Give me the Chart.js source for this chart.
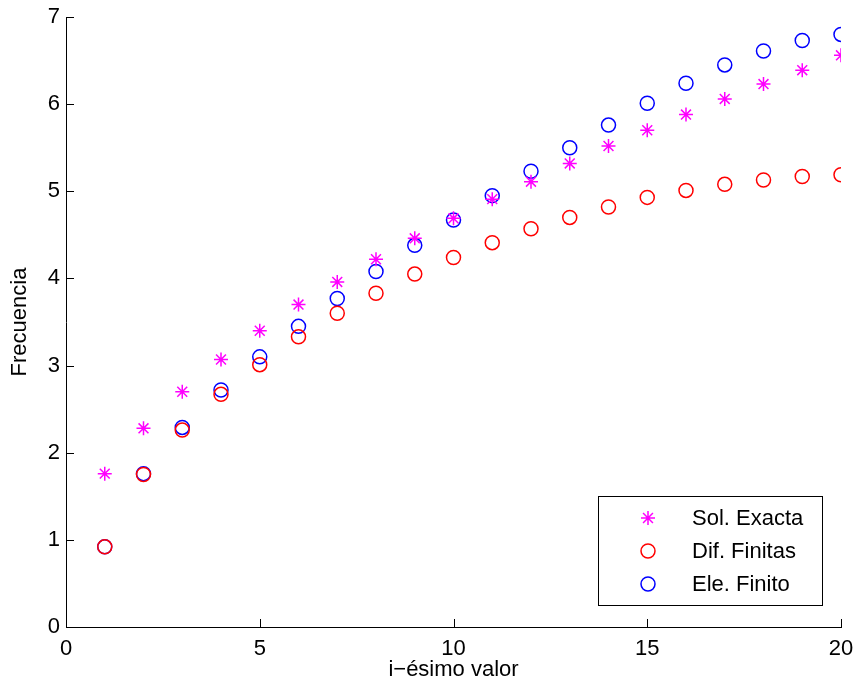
<!DOCTYPE html>
<html>
<head>
<meta charset="utf-8">
<script src="https://cdn.jsdelivr.net/npm/chart.js@4/dist/chart.umd.min.js"></script>
<style>
    html, body { margin: 0; padding: 0; background: #fff; }
    #wrap { width: 856px; height: 687px; }
</style>
</head>
<body>
<div id="wrap"><canvas id="freqChart"></canvas></div>
<script>
const indices = [1, 2, 3, 4, 5, 6, 7, 8, 9, 10, 11, 12, 13, 14, 15, 16, 17, 18, 19, 20];
const solExacta = [1.76, 2.28, 2.70, 3.07, 3.40, 3.70, 3.96, 4.22, 4.46, 4.69, 4.91, 5.11, 5.32, 5.52, 5.70, 5.88, 6.06, 6.23, 6.39, 6.56];
const difFinitas = [0.92, 1.75, 2.26, 2.67, 3.01, 3.33, 3.60, 3.83, 4.05, 4.24, 4.41, 4.57, 4.70, 4.82, 4.93, 5.01, 5.08, 5.13, 5.17, 5.19];
const eleFinito = [0.92, 1.76, 2.29, 2.72, 3.10, 3.45, 3.77, 4.08, 4.38, 4.67, 4.95, 5.23, 5.50, 5.76, 6.01, 6.24, 6.45, 6.61, 6.73, 6.80];
const xTicks = [0, 5, 10, 15, 20];
const yTicks = [0, 1, 2, 3, 4, 5, 6, 7];

const FONT = "'Liberation Sans', Arial, Helvetica, sans-serif";

const toPoints = (vals) => indices.map((i, k) => ({ x: i, y: vals[k] }));

// inward tick marks, matlab style
const insideTicks = {
    id: "insideTicks",
    afterDraw(chart) {
        const { ctx, chartArea, scales } = chart;
        ctx.save();
        ctx.strokeStyle = "#000";
        ctx.lineWidth = 1;
        xTicks.forEach((v) => {
            const px = Math.round(scales.x.getPixelForValue(v)) + 0.5;
            ctx.beginPath();
            ctx.moveTo(px, chartArea.bottom);
            ctx.lineTo(px, chartArea.bottom - 8);
            ctx.stroke();
        });
        yTicks.forEach((v) => {
            const py = Math.round(scales.y.getPixelForValue(v)) + 0.5;
            ctx.beginPath();
            ctx.moveTo(chartArea.left, py);
            ctx.lineTo(chartArea.left + 8, py);
            ctx.stroke();
        });
        ctx.restore();
    },
};

// legend box inside the plot, lower right
const boxLegend = {
    id: "boxLegend",
    afterDraw(chart) {
        const { ctx } = chart;
        const x0 = 598, y0 = 496, w = 224, h = 109;
        ctx.save();
        ctx.fillStyle = "#fff";
        ctx.fillRect(x0, y0, w, h);
        ctx.strokeStyle = "#000";
        ctx.lineWidth = 1;
        ctx.strokeRect(x0 + 0.5, y0 + 0.5, w, h);
        chart.data.datasets.forEach((ds, i) => {
            const yy = y0 + 22 + i * 33;
            ctx.strokeStyle = ds.borderColor;
            ctx.fillStyle = "rgba(0,0,0,0)";
            ctx.lineWidth = ds.borderWidth;
            Chart.helpers.drawPoint(ctx, {
                pointStyle: ds.pointStyle,
                radius: ds.pointRadius,
                rotation: 0,
                borderWidth: ds.borderWidth,
            }, 648, yy);
            ctx.fillStyle = "#000";
            ctx.font = "22px " + FONT;
            ctx.textBaseline = "middle";
            ctx.textAlign = "left";
            ctx.fillText(ds.label, 692, yy + 1);
        });
        ctx.restore();
    },
};

new Chart(document.getElementById("freqChart"), {
    type: "scatter",
    data: {
        datasets: [
            {
                label: "Sol. Exacta",
                data: toPoints(solExacta),
                pointStyle: "star",
                pointRadius: 7,
                borderColor: "#ff00ff",
                backgroundColor: "#ff00ff",
                borderWidth: 1.5,
            },
            {
                label: "Dif. Finitas",
                data: toPoints(difFinitas),
                pointStyle: "circle",
                pointRadius: 7,
                borderColor: "#ff0000",
                backgroundColor: "rgba(0,0,0,0)",
                borderWidth: 1.5,
            },
            {
                label: "Ele. Finito",
                data: toPoints(eleFinito),
                pointStyle: "circle",
                pointRadius: 7,
                borderColor: "#0000ff",
                backgroundColor: "rgba(0,0,0,0)",
                borderWidth: 1.5,
            },
        ],
    },
    options: {
        responsive: true,
        maintainAspectRatio: false,
        animation: false,
        layout: {
            padding: { left: 0, right: 15, top: 17, bottom: 0 },
        },
        scales: {
            x: {
                type: "linear",
                min: 0,
                max: 20,
                afterBuildTicks: (scale) => { scale.ticks = xTicks.map((v) => ({ value: v })); },
                afterFit: (scale) => {
                    scale.height = 60;
                    scale.paddingLeft = 0;
                    scale.paddingRight = 0;
                },
                grid: { drawOnChartArea: false, drawTicks: false },
                border: { display: true, color: "#000", width: 1 },
                ticks: {
                    color: "#000",
                    padding: 9,
                    font: { family: FONT, size: 22 },
                },
                title: {
                    display: true,
                    text: "i\u2212ésimo valor",
                    color: "#000",
                    padding: { top: 0, bottom: 4 },
                    font: { family: FONT, size: 22 },
                },
            },
            y: {
                type: "linear",
                min: 0,
                max: 7,
                afterBuildTicks: (scale) => { scale.ticks = yTicks.map((v) => ({ value: v })); },
                afterFit: (scale) => {
                    scale.width = 66;
                    scale.paddingTop = 0;
                    scale.paddingBottom = 0;
                },
                grid: { drawOnChartArea: false, drawTicks: false },
                border: { display: true, color: "#000", width: 1 },
                ticks: {
                    color: "#000",
                    padding: 6,
                    font: { family: FONT, size: 22 },
                },
                title: {
                    display: true,
                    text: "Frecuencia",
                    color: "#000",
                    padding: { top: 7, bottom: 0 },
                    font: { family: FONT, size: 22 },
                },
            },
        },
        plugins: {
            legend: { display: false },
            tooltip: { enabled: false },
        },
    },
    plugins: [insideTicks, boxLegend],
});
</script>
</body>
</html>
